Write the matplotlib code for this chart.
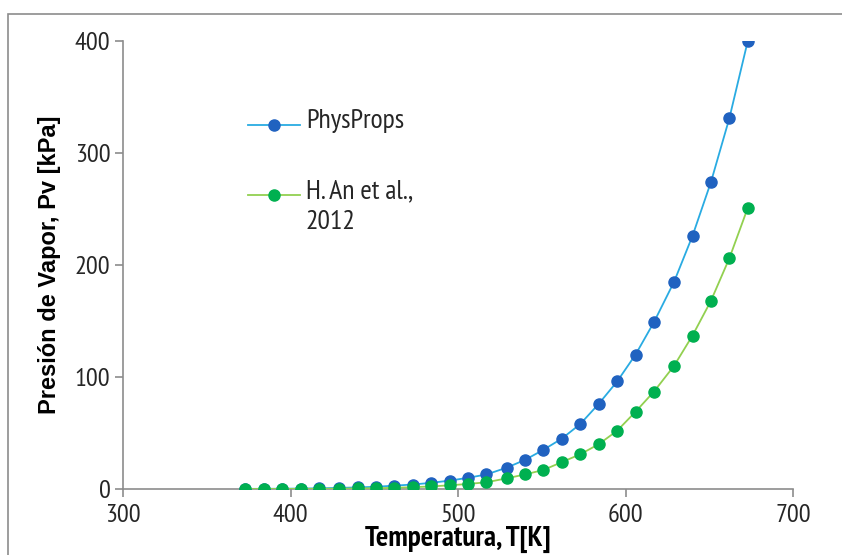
import matplotlib
matplotlib.use('Agg')
import matplotlib.pyplot as plt
from matplotlib.patches import Rectangle
from matplotlib.lines import Line2D

# Temperature [K] and vapour pressure [kPa]
temp_k = [373, 384, 395, 406, 417, 429, 440, 451, 462, 473, 484, 495, 506, 517,
          529, 540, 551, 562, 573, 584, 595, 606, 617, 629, 640, 651, 662, 673]
physprops = [0.1, 0.15, 0.25, 0.4, 0.6, 1.0, 1.4, 2.0, 3.0, 4.0, 5.5, 7.5, 10, 13,
             19, 26, 35, 45, 58, 76, 96, 120, 149, 185, 226, 274, 331, 400]
an_2012 = [0.02, 0.04, 0.07, 0.1, 0.2, 0.3, 0.5, 0.7, 1.1, 1.6, 2.3, 3.3, 4.5, 6,
           9.5, 13, 17, 24, 31, 40, 52, 69, 87, 110, 137, 168, 206, 251]

x_ticks = [300, 400, 500, 600, 700]
y_ticks = [0, 100, 200, 300, 400]

narrow = ['PT Sans Narrow', 'Archivo Narrow', 'DejaVu Sans']

fig = plt.figure(figsize=(8.42, 5.55), dpi=100)
# chart frame (cut off on the right and bottom in the reference)
fig.patches.append(Rectangle((8 / 842, -0.1), 1.2, 1 - 14 / 555 + 0.1,
                             transform=fig.transFigure, fill=False,
                             edgecolor='#8c8c8c', linewidth=1.2))

ax = fig.add_axes([123 / 842, 1 - 489 / 555, 670 / 842, 448 / 555])

blue = dict(color='#29abe2', linewidth=1.3, marker='o', markersize=8,
            markerfacecolor='#2062c0', markeredgecolor='#2062c0')
green = dict(color='#92d050', linewidth=1.3, marker='o', markersize=8,
             markerfacecolor='#00b050', markeredgecolor='#00b050')

ax.plot(temp_k, physprops, zorder=3, **blue)
ax.plot(temp_k, an_2012, zorder=4, **green)

ax.set_xlim(300, 700)
ax.set_ylim(0, 400)
ax.set_xticks(x_ticks)
ax.set_yticks(y_ticks)
for s in ['top', 'right']:
    ax.spines[s].set_visible(False)
for s in ['left', 'bottom']:
    ax.spines[s].set_color('#8c8c8c')
    ax.spines[s].set_linewidth(1.2)
ax.tick_params(axis='both', direction='out', length=6, width=1.2,
               color='#8c8c8c', labelsize=19, labelcolor='#262626')
for lab in ax.get_xticklabels() + ax.get_yticklabels():
    lab.set_fontfamily(narrow)
ax.tick_params(axis='y', pad=3)
ax.tick_params(axis='x', pad=5)

ax.set_xlabel('Temperatura, T[K]', fontsize=21, fontweight='bold',
              family=narrow, labelpad=-1)
ax.set_ylabel('Presión de Vapor, Pv [kPa]', fontsize=17, fontweight='bold',
              family='Liberation Sans', labelpad=10)

# legend drawn by hand so the marker lines up with the first text line
entries = [('PhysProps', blue, 0.8125), ('H. An et al.,\n2012', green, 0.65625)]
for label, style, yy in entries:
    ax.add_line(Line2D([0.1866, 0.2642], [yy, yy], transform=ax.transAxes,
                       markevery=[], clip_on=False, **style))
    ax.add_line(Line2D([0.2254], [yy], transform=ax.transAxes,
                       clip_on=False, **style))
    ax.text(0.273, yy + 0.036, label, transform=ax.transAxes, va='top',
            family=narrow, fontsize=20, color='#262626', linespacing=1.4)

fig.savefig('out.png', dpi=100)
